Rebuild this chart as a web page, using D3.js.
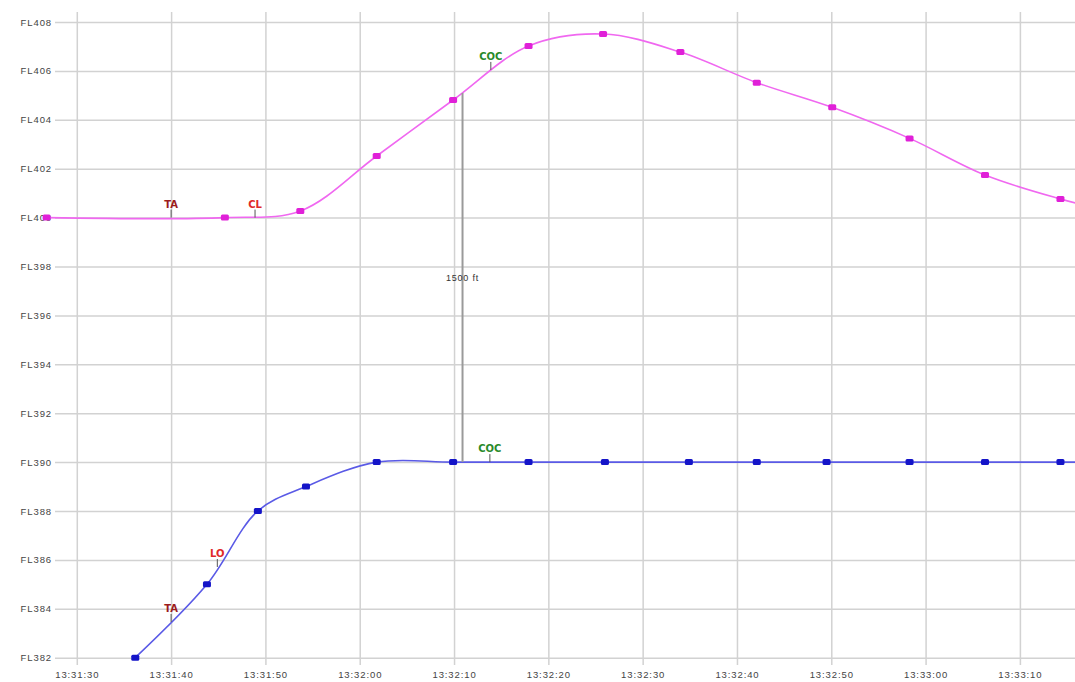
<!DOCTYPE html>
<html>
<head>
<meta charset="utf-8">
<script src="https://cdn.jsdelivr.net/npm/d3@7"></script>
<style>
  html, body { margin: 0; padding: 0; background: #fff; }
  svg { display: block; }
</style>
</head>
<body>
<svg id="chart" width="1075" height="682"></svg>
<script>
// ---------- data (seconds after 13:31:30, flight level) ----------
const tickLabels = ["13:31:30","13:31:40","13:31:50","13:32:00","13:32:10","13:32:20","13:32:30","13:32:40","13:32:50","13:33:00","13:33:10"];
const flTicks = [382,384,386,388,390,392,394,396,398,400,402,404,406,408];

// upper aircraft (magenta)
const upperTimes = [-3.2, 15.7, 23.7, 31.8, 39.9, 47.9, 55.8, 64.0, 72.1, 80.1, 88.3, 96.3, 104.3];
const upperFL    = [400.0, 400.0, 400.27, 402.52, 404.81, 407.02, 407.51, 406.77, 405.52, 404.51, 403.24, 401.74, 400.76];
const upperTailTimes = [108.5];
const upperTailFL    = [400.35];

// lower aircraft (blue)
const lowerTimes = [6.2, 13.8, 19.2, 24.3, 31.8, 39.9, 47.9, 56.0, 64.9, 72.1, 79.5, 88.3, 96.3, 104.3];
const lowerFL    = [382.0, 385.0, 388.0, 389.0, 390.0, 390.0, 390.0, 390.0, 390.0, 390.0, 390.0, 390.0, 390.0, 390.0];
const lowerTailTimes = [110];
const lowerTailFL    = [390.0];

// event annotations
const eventLabels = ["TA", "CL", "COC", "TA", "LO", "COC"];
const eventTimes  = [10.0, 18.9, 43.9, 10.0, 14.9, 43.8];
const eventFL     = [400.0, 400.0, 406.04, 383.46, 385.71, 390.0];
const eventKinds  = ["ta", "ra", "coc", "ta", "ra", "coc"];

// separation measurement
const sepLabel = "1500 ft";
const sepTime = 40.9;
const sepFrom = 405.1;
const sepTo = 390.0;

// ---------- setup ----------
const base = new Date(2000, 0, 1, 13, 31, 30);
const toDate = s => new Date(base.getTime() + s * 1000);
const parseTick = d3.timeParse("%H:%M:%S");
const tickDates = tickLabels.map(s => { const p = parseTick(s); return new Date(2000,0,1,p.getHours(),p.getMinutes(),p.getSeconds()); });

const svg = d3.select("#chart");
const x = d3.scaleTime()
  .domain([toDate(0), toDate(100)])
  .range([76.8, 1019.9]);
const y = d3.scaleLinear()
  .domain([382, 408])
  .range([657.7, 22]);

const gridColor = "#d2d2d2";
const labelFont = "Liberation Sans, Arial, sans-serif";

// horizontal grid + labels
const yAxis = d3.axisLeft(y).tickValues(flTicks).tickSize(-(1075 - 55)).tickPadding(3)
  .tickFormat(d => "FL" + d);
const gy = svg.append("g").attr("transform", "translate(55,0)").call(yAxis);
gy.select(".domain").remove();
gy.selectAll(".tick line").attr("stroke", gridColor).attr("stroke-width", 1.5);
gy.selectAll(".tick text").attr("fill", "#444").attr("font-size", 9.5)
  .attr("letter-spacing", 0.9)
  .attr("font-family", labelFont);

// vertical grid
const xAxis = d3.axisBottom(x).tickValues(tickDates).tickSize(-(665 - 12)).tickPadding(6)
  .tickFormat(d3.timeFormat("%H:%M:%S"));
const gx = svg.append("g").attr("transform", "translate(0,665)").call(xAxis);
gx.select(".domain").remove();
gx.selectAll(".tick line").attr("stroke", gridColor).attr("stroke-width", 1.5);
gx.selectAll(".tick text").attr("fill", "#444").attr("font-size", 9.5)
  .attr("letter-spacing", 0.9)
  .attr("font-family", labelFont);

// lines
const line = d3.line().x(d => x(toDate(d[0]))).y(d => y(d[1])).curve(d3.curveCatmullRom.alpha(0.5));
const upperPts = upperTimes.map((t, i) => [t, upperFL[i]]);
const lowerPts = lowerTimes.map((t, i) => [t, lowerFL[i]]);
const upperLine = upperPts.concat(upperTailTimes.map((t, i) => [t, upperTailFL[i]]));
const lowerLine = lowerPts.concat(lowerTailTimes.map((t, i) => [t, lowerTailFL[i]]));

svg.append("path").datum(upperLine).attr("d", line)
  .attr("fill", "none").attr("stroke", "#f068f0").attr("stroke-width", 1.6);
svg.append("path").datum(lowerLine).attr("d", line)
  .attr("fill", "none").attr("stroke", "#5a5ae6").attr("stroke-width", 1.6);

// separation line
svg.append("line")
  .attr("x1", x(toDate(sepTime))).attr("x2", x(toDate(sepTime)))
  .attr("y1", y(sepFrom)).attr("y2", y(sepTo))
  .attr("stroke", "#9a9a9a").attr("stroke-width", 2);
svg.append("text")
  .attr("x", x(toDate(sepTime))).attr("y", y((sepFrom + sepTo) / 2))
  .attr("dy", "0.35em")
  .attr("text-anchor", "middle").attr("font-size", 9)
  .attr("letter-spacing", 0.8)
  .attr("font-family", labelFont).attr("fill", "#333")
  .text(sepLabel);

// markers
svg.append("g").selectAll("rect").data(upperPts).join("rect")
  .attr("x", d => x(toDate(d[0])) - 4).attr("y", d => y(d[1]) - 3)
  .attr("width", 8).attr("height", 6).attr("rx", 1.5)
  .attr("fill", "#e020d8");
svg.append("g").selectAll("rect").data(lowerPts).join("rect")
  .attr("x", d => x(toDate(d[0])) - 4).attr("y", d => y(d[1]) - 3)
  .attr("width", 8).attr("height", 6).attr("rx", 1.5)
  .attr("fill", "#1414c8");

// events
const kindColor = { ta: "#9c1c1c", ra: "#e02828", coc: "#2a8a2a" };
const ev = svg.append("g").selectAll("g").data(eventLabels.map((l, i) => ({
  label: l, t: eventTimes[i], fl: eventFL[i], kind: eventKinds[i]
}))).join("g");
ev.append("line")
  .attr("x1", d => x(toDate(d.t))).attr("x2", d => x(toDate(d.t)))
  .attr("y1", d => y(d.fl) - 8).attr("y2", d => y(d.fl))
  .attr("stroke", "#555").attr("stroke-width", 1);
ev.append("text")
  .attr("x", d => x(toDate(d.t))).attr("y", d => y(d.fl) - 10)
  .attr("text-anchor", "middle").attr("font-size", 10).attr("font-weight", "bold")
  .attr("font-family", "DejaVu Sans, sans-serif")
  .attr("fill", d => kindColor[d.kind])
  .text(d => d.label);
</script>
</body>
</html>
